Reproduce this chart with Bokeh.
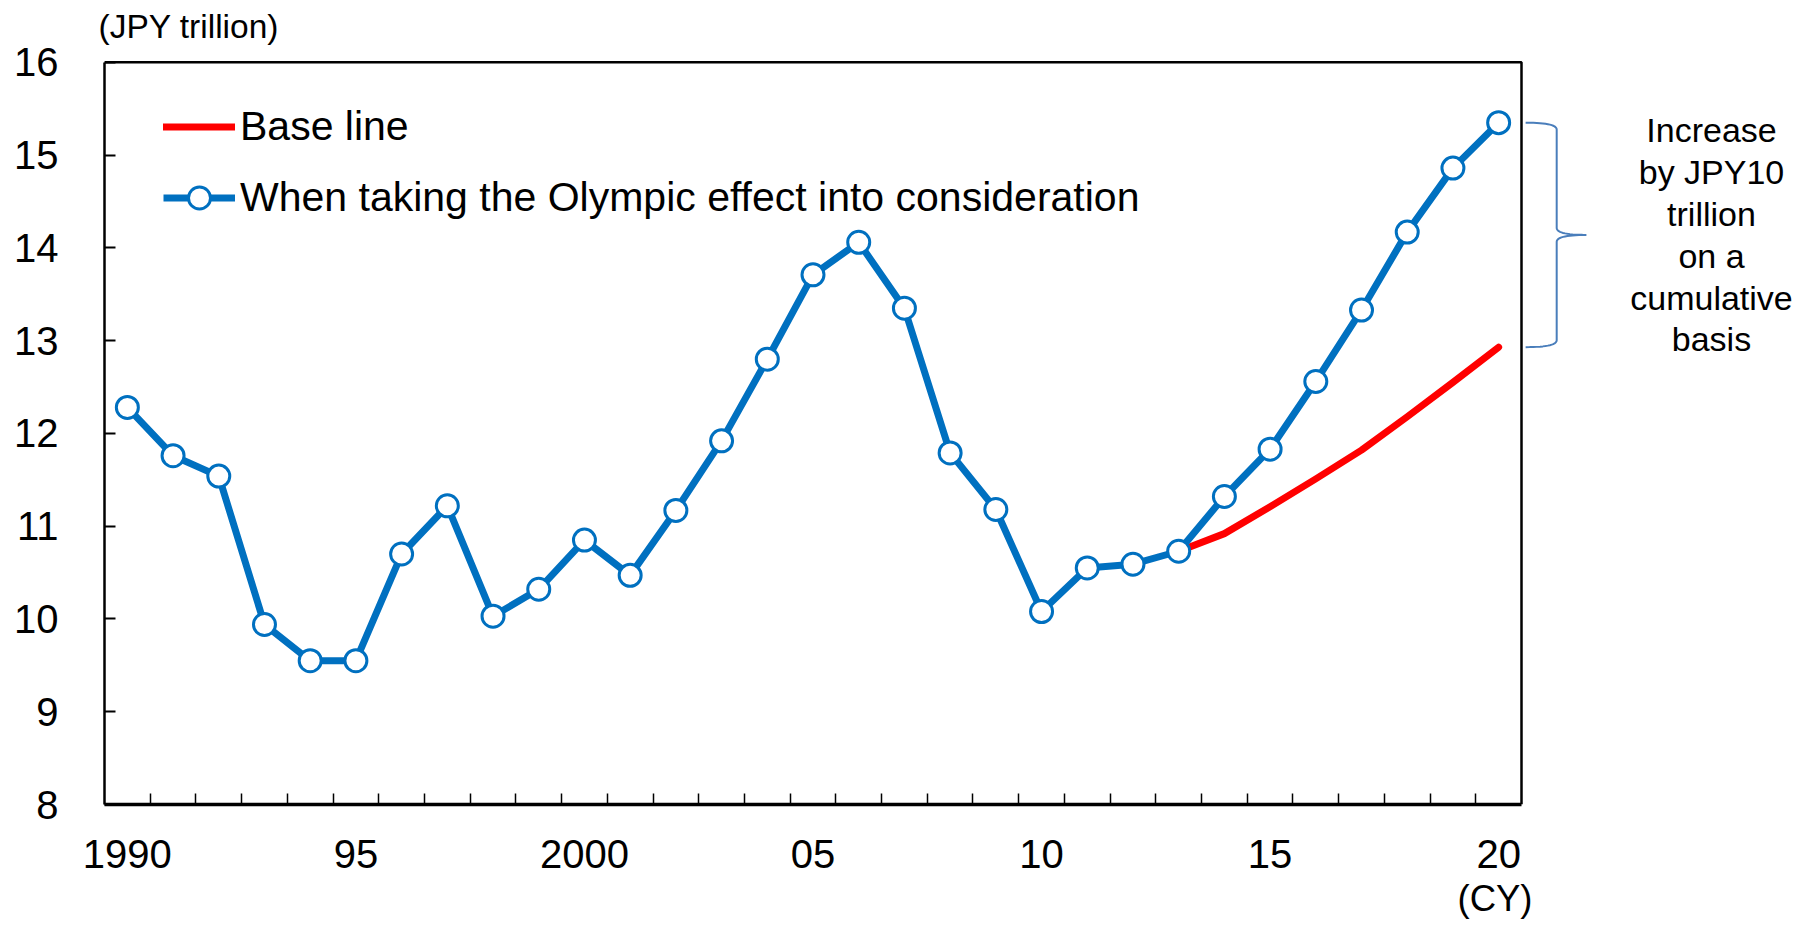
import numpy as np
from bokeh.plotting import figure
from bokeh.models import Range1d, FixedTicker, Legend, LegendItem, Title
from bokeh.core.properties import value
from bokeh.embed import file_html
from bokeh.resources import INLINE

# ---- data (JPY trillion, calendar years) ----
years = list(range(1990, 2021))
olympic = [12.28, 11.76, 11.54, 9.94, 9.55, 9.55, 10.70, 11.22, 10.03, 10.32,
           10.85, 10.47, 11.17, 11.92, 12.80, 13.71, 14.06, 13.35, 11.79, 11.18,
           10.08, 10.55, 10.59, 10.73, 11.32, 11.83, 12.56, 13.33, 14.17, 14.86,
           15.35]
base_years = list(range(2013, 2021))
base = [10.73, 10.92, 11.21, 11.51, 11.82, 12.18, 12.55, 12.93]

x_label_years = [1990, 1995, 2000, 2005, 2010, 2015, 2020]
x_label_text = ["1990", "95", "2000", "05", "10", "15", "20"]
y_ticks = [8, 9, 10, 11, 12, 13, 14, 15, 16]

label_base = "Base line"
label_olympic = "When taking the Olympic effect into consideration"
unit_text = "(JPY trillion)"
year_unit_text = "(CY)"
note_text = "Increase\nby JPY10\ntrillion\non a\ncumulative\nbasis"

FONT = "Liberation Sans"
BLUE = "#0070C0"
RED = "#FF0000"
BRACE = "#4A7EBB"

# ---- frame geometry ----
X_LO, X_HI = years[0] - 0.5, years[-1] + 0.5
Y_LO, Y_HI = 8, 16
LEFT, TOP, BOTTOM = 104, 60, 121
W, H = 1816, 925
unit_px = (1521 - LEFT) / (X_HI - X_LO)
x_end = X_LO + (W - LEFT) / unit_px
y_end = Y_HI + 0.02

p = figure(width=W, height=H, output_backend="svg", toolbar_location=None,
           x_range=Range1d(X_LO, x_end), y_range=Range1d(Y_LO, y_end),
           min_border_left=LEFT, min_border_top=TOP, min_border_bottom=BOTTOM,
           min_border_right=0)
p.outline_line_color = None
p.grid.visible = False
p.background_fill_color = "white"
p.border_fill_color = "white"

# top and right edges of the chart box
p.line(x=[X_LO, X_HI, X_HI], y=[Y_HI, Y_HI, Y_LO], line_color="black",
       line_width=2.5)

# x axis: year-boundary ticks, labels every five years
xa = p.xaxis[0]
xa.bounds = (X_LO, X_HI)
xa.ticker = FixedTicker(ticks=x_label_years,
                        minor_ticks=[y + 0.5 for y in years[:-1]])
xa.major_label_overrides = {yv: t for yv, t in zip(x_label_years, x_label_text)}
xa.major_tick_in = 0
xa.major_tick_out = 0
xa.minor_tick_in = 11
xa.minor_tick_out = 0
xa.minor_tick_line_width = 1.5
xa.minor_tick_line_color = "black"
xa.axis_line_width = 3.5
xa.axis_line_color = "black"
xa.major_label_text_font = FONT
xa.major_label_text_font_size = "40px"
xa.major_label_text_color = "black"
xa.major_label_standoff = 35

# y axis
ya = p.yaxis[0]
ya.bounds = (Y_LO, Y_HI)
ya.ticker = FixedTicker(ticks=y_ticks)
ya.major_tick_in = 11
ya.major_tick_out = 0
ya.major_tick_line_width = 2
ya.major_tick_line_color = "black"
ya.minor_tick_line_color = None
ya.axis_line_width = 2.5
ya.axis_line_color = "black"
ya.major_label_text_font = FONT
ya.major_label_text_font_size = "40px"
ya.major_label_text_color = "black"
ya.major_label_standoff = 46

# series
r_base = p.line(base_years, base, line_color=RED, line_width=7,
                line_cap="round", line_join="round")
r_oly_line = p.line(years, olympic, line_color=BLUE, line_width=7,
                    line_join="round")
r_oly_pts = p.scatter(years, olympic, marker="circle", size=22,
                      fill_color="white", line_color=BLUE, line_width=3)

legend = Legend(items=[LegendItem(label=label_base, renderers=[r_base]),
                       LegendItem(label=label_olympic,
                                  renderers=[r_oly_line, r_oly_pts])],
                location=(59, 579), padding=0, margin=0, spacing=16,
                glyph_width=72, glyph_height=55, label_height=55,
                label_standoff=5, border_line_color=None,
                background_fill_alpha=0,
                label_text_font=FONT, label_text_font_size="41px",
                label_text_color="black")
p.add_layout(legend, "center")

# brace spanning the gap between the two series in 2020
y_top, y_bot = olympic[-1], base[-1]
y_mid = (y_top + y_bot) / 2
bx0, bx1, bx2 = X_HI + 0.09, X_HI + 0.77, X_HI + 1.42
r = 0.075


def quad(p0, c, p1, n=16):
    t = np.linspace(0, 1, n)[:, None]
    return ((1 - t) ** 2 * np.array(p0) + 2 * (1 - t) * t * np.array(c)
            + t ** 2 * np.array(p1))


path = np.vstack([
    quad((bx0, y_top), (bx1, y_top), (bx1, y_top - r)),
    quad((bx1, y_mid + r), (bx1, y_mid), (bx2, y_mid)),
    quad((bx2, y_mid), (bx1, y_mid), (bx1, y_mid - r)),
    quad((bx1, y_bot + r), (bx1, y_bot), (bx0, y_bot)),
])
p.line(path[:, 0], path[:, 1], line_color=BRACE, line_width=2)

note_x = X_LO + (1711 - LEFT) / unit_px
p.text(x=[note_x], y=[y_mid], text=[note_text], text_align="center",
       text_baseline="middle", text_font=value(FONT), text_font_size="34px",
       text_color="black", text_line_height=1.1)

# unit caption above the box; a thin blank title keeps it clear of the frame
p.add_layout(Title(text=" ", text_font_size="1px", standoff=13), "above")
p.add_layout(Title(text=unit_text, align="left", offset=-6, standoff=0,
                   text_font=FONT, text_font_size="33.5px",
                   text_font_style="normal", text_color="black"), "above")

# calendar-year unit under the last tick label
p.add_layout(Title(text=year_unit_text, align="left", offset=1457 - LEFT,
                   standoff=11, text_font=FONT, text_font_size="36.5px",
                   text_font_style="normal", text_color="black"), "below")

open("out.html", "w").write(file_html(p, INLINE))
